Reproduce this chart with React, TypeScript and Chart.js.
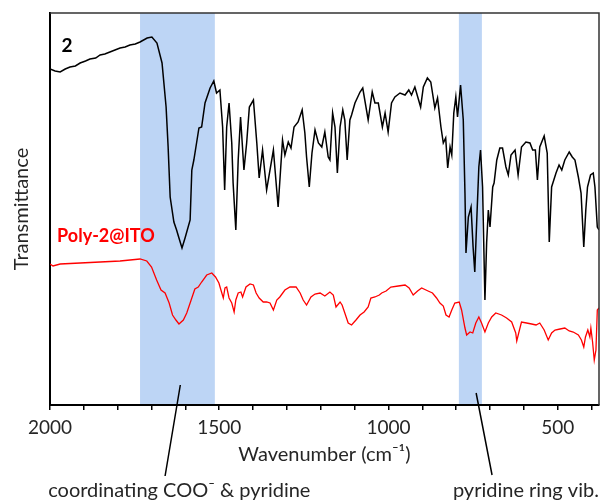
import { useEffect, useRef } from "react";
import { Chart, registerables } from "chart.js";

Chart.register(...registerables);

// Compound 2 (black) – wavenumber (cm-1) and transmittance (a.u.)
const wavenumbers2 = [
  2000, 1985, 1970, 1955, 1941, 1925, 1911, 1895, 1882, 1865, 1852, 1838, 1823, 1808, 1793, 1778, 1764,
  1748, 1734, 1713, 1699, 1684, 1669, 1657, 1651, 1645,
  1634, 1626, 1619, 1610, 1601, 1586, 1581, 1575, 1567, 1560, 1552, 1542, 1527, 1516, 1508, 1498, 1490,
  1484, 1478, 1471, 1463, 1459, 1451, 1444, 1437, 1427, 1419, 1411, 1399, 1389, 1382, 1372, 1360, 1340,
  1326, 1313, 1306, 1296, 1288, 1279, 1267, 1255, 1247, 1242, 1234, 1226, 1217, 1207, 1197, 1188, 1178,
  1173, 1165, 1158, 1151, 1143, 1135, 1129, 1122, 1114, 1109, 1099, 1084, 1076, 1060, 1048, 1040, 1030,
  1018, 1010, 1001, 991, 981, 966, 951, 940, 932, 922, 905, 897, 885, 875, 863, 855, 845, 838, 831, 825,
  818, 813, 807, 801, 796, 787, 779, 774, 771, 764, 756, 750, 745, 738, 733, 728, 722, 715, 710, 705, 700,
  692, 688, 680, 671, 663, 653, 646, 638, 626, 617, 607, 594, 582, 574, 566, 560, 553, 540, 531, 525, 518,
  505, 496, 488, 479, 466, 457, 449, 439, 431, 423, 417, 412, 403, 395, 390, 383, 378,
];
const transmittance2 = [
  336, 334, 333, 336, 338, 339, 342, 344, 346, 347, 350, 351, 353, 355, 357, 358, 360,
  361, 363, 367, 368, 362, 342, 298, 258, 208,
  183, 175, 167, 157, 167, 185, 235, 245, 262, 277, 278, 302, 317, 324, 312, 315, 278,
  215, 278, 302, 262, 222, 175, 245, 288, 235, 262, 298, 305, 262, 227, 255, 215, 255,
  198, 265, 250, 263, 257, 278, 283, 295, 272, 248, 218, 252, 275, 262, 258, 273, 248,
  245, 292, 278, 232, 278, 295, 285, 245, 285, 290, 302, 313, 317, 285, 313, 302, 302,
  278, 292, 273, 302, 308, 312, 310, 315, 310, 318, 298, 318, 327, 323, 297, 307, 278, 262, 267, 237,
  258, 250, 292, 308, 288, 320, 285, 212, 152, 188, 198, 158, 133, 195, 238, 255, 218, 105, 162, 195, 178,
  218, 222, 245, 257, 257, 238, 230, 250, 255, 230, 258, 263, 262, 255, 255, 225, 258, 269, 252, 163, 218,
  232, 240, 235, 245, 253, 248, 245, 228, 212, 158, 195, 218, 230, 232, 218, 178, 175,
];

// Poly-2@ITO (red)
const wavenumbersITO = [
  2000, 1991, 1970, 1911, 1852, 1793, 1734, 1714, 1700, 1685, 1672, 1660, 1648, 1638, 1628, 1619, 1606,
  1596, 1583, 1572, 1562, 1552, 1537, 1522, 1511, 1501, 1495, 1488, 1483, 1478, 1471, 1463, 1456, 1451,
  1444, 1436, 1431, 1421, 1409, 1399, 1391, 1382, 1370, 1360, 1350, 1340, 1330, 1321, 1306, 1291, 1273,
  1261, 1252, 1242, 1229, 1217, 1202, 1188, 1173, 1163, 1155, 1143, 1137, 1129, 1119, 1109, 1096, 1084,
  1072, 1060, 1052, 1040, 1027, 1020, 1007, 993, 971, 951, 939, 927, 914, 902, 883, 870, 858, 848, 838,
  830, 821, 813, 804, 791, 784, 774, 769, 759, 751, 742, 733, 725, 715, 705, 695, 683, 666, 651, 636, 624,
  621, 613, 607, 592, 577, 564, 553, 540, 528, 518, 508, 493, 479, 466, 454, 439, 430, 423, 418, 411, 405,
  402, 397, 392, 387, 383, 378,
];
const transmittanceITO = [
  141, 139, 141, 142, 143, 144, 146, 144, 138, 125, 115, 112, 102, 90, 85, 81, 85,
  92, 105, 116, 118, 123, 130, 132, 128, 122, 115, 107, 117, 118, 107, 102, 93, 105,
  112, 113, 108, 118, 121, 120, 112, 107, 103, 103, 102, 95, 105, 108, 115, 118, 118,
  112, 105, 100, 108, 111, 112, 109, 113, 110, 98, 103, 100, 92, 82, 80, 85, 90,
  93, 98, 107, 108, 110, 112, 114, 118, 119, 120, 117, 110, 114, 117, 114, 112, 107, 102, 99,
  90, 88, 95, 102, 103, 95, 77, 70, 73, 72, 82, 88, 82, 73, 82, 88, 92, 90, 87, 83, 72,
  64, 75, 83, 82, 81, 80, 82, 75, 65, 72, 75, 76, 77, 74, 73, 70, 65, 58, 68, 75, 68,
  77, 63, 45, 55, 95, 97,
];

const xTickValues = [2000, 1900, 1800, 1700, 1600, 1500, 1400, 1300, 1200, 1100, 1000, 900, 800, 700, 600, 500, 400];
const xTickLabels = ["2000", "1500", "1000", "500"];
const highlightBands = [
  [1734, 1513],
  [792, 724],
];
const bandNotes = ["coordinating COO\u207B & pyridine", "pyridine ring vib."];

const FONT = "Lato, 'Liberation Sans', sans-serif";
const TEXT = "#262626";

const overlay = {
  id: "overlay",
  beforeDatasetsDraw(chart: any) {
    const { ctx, chartArea: ca, scales } = chart;
    const x = scales.x;
    ctx.save();
    ctx.fillStyle = "rgb(189,213,245)";
    for (const [a, b] of highlightBands) {
      const x1 = x.getPixelForValue(a);
      const x2 = x.getPixelForValue(b);
      ctx.fillRect(Math.min(x1, x2), ca.top, Math.abs(x2 - x1), ca.bottom - ca.top - 1);
    }
    ctx.restore();
  },
  afterDraw(chart: any) {
    const { ctx, chartArea: ca, scales } = chart;
    const x = scales.x;
    const y = scales.y;
    ctx.save();
    // frame (top & right)
    ctx.strokeStyle = "#333";
    ctx.lineWidth = 1.5;
    ctx.beginPath();
    ctx.moveTo(ca.left, ca.top);
    ctx.lineTo(ca.right, ca.top);
    ctx.lineTo(ca.right, ca.bottom);
    ctx.stroke();

    // series labels
    ctx.textBaseline = "middle";
    ctx.textAlign = "left";
    ctx.font = `bold 19px ${FONT}`;
    ctx.fillStyle = "#000";
    ctx.fillText("2", x.getPixelForValue(1966), y.getPixelForValue(359));
    ctx.font = `bold 18px ${FONT}`;
    ctx.fillStyle = "#ff0000";
    ctx.fillText("Poly-2@ITO", x.getPixelForValue(1979), y.getPixelForValue(169));

    // band annotations below the axis
    ctx.strokeStyle = "#000";
    ctx.lineWidth = 1.5;
    ctx.beginPath();
    ctx.moveTo(x.getPixelForValue(1615), y.getPixelForValue(20));
    ctx.lineTo(x.getPixelForValue(1660), ca.bottom + 71);
    ctx.moveTo(x.getPixelForValue(741), y.getPixelForValue(12));
    ctx.lineTo(x.getPixelForValue(694), ca.bottom + 70);
    ctx.stroke();

    ctx.fillStyle = TEXT;
    ctx.font = `20px ${FONT}`;
    ctx.textAlign = "center";
    ctx.fillText(bandNotes[0], x.getPixelForValue(1618), ca.bottom + 86);
    ctx.fillText(bandNotes[1], x.getPixelForValue(594), ca.bottom + 86);
    ctx.restore();
  },
};

export default function App() {
  const ref = useRef<HTMLCanvasElement | null>(null);

  useEffect(() => {
    if (!ref.current) return;
    const chart = new Chart(ref.current, {
      type: "line",
      data: {
        datasets: [
          {
            label: "2",
            data: wavenumbers2.map((w, i) => ({ x: w, y: transmittance2[i] })),
            borderColor: "#000",
            borderWidth: 1.5,
            pointRadius: 0,
            tension: 0,
          },
          {
            label: "Poly-2@ITO",
            data: wavenumbersITO.map((w, i) => ({ x: w, y: transmittanceITO[i] })),
            borderColor: "#ff0000",
            borderWidth: 1.3,
            pointRadius: 0,
            tension: 0,
          },
        ],
      },
      options: {
        animation: false,
        responsive: false,
        devicePixelRatio: 1,
        layout: { padding: { left: 0, right: 8, top: 13, bottom: 0 } },
        plugins: { legend: { display: false }, tooltip: { enabled: false } },
        scales: {
          x: {
            type: "linear",
            reverse: true,
            min: 378,
            max: 2000,
            afterBuildTicks: (scale: any) => {
              scale.ticks = xTickValues.map((v) => ({ value: v }));
            },
            afterFit: (scale: any) => {
              scale.height = 98;
            },
            ticks: {
              autoSkip: false,
              maxRotation: 0,
              padding: 6,
              color: TEXT,
              font: { family: FONT, size: 19 },
              callback: (v: any) => (xTickLabels.includes(String(v)) ? String(v) : ""),
            },
            grid: {
              drawOnChartArea: false,
              drawTicks: true,
              tickLength: 5,
              color: "#000",
              lineWidth: 1.5,
            },
            border: { display: true, color: "#000", width: 2 },
            title: {
              display: true,
              text: "Wavenumber (cm\u207B\u00B9)",
              color: TEXT,
              font: { family: FONT, size: 20 },
              padding: { top: 0, bottom: 36 },
            },
          },
          y: {
            min: 0,
            max: 392,
            afterFit: (scale: any) => {
              scale.width = 50;
            },
            ticks: { display: false },
            grid: { display: false, drawTicks: false },
            border: { display: true, color: "#000", width: 2 },
            title: {
              display: true,
              text: "Transmittance",
              color: TEXT,
              font: { family: FONT, size: 20 },
              padding: { top: 10, bottom: 0 },
            },
          },
        },
      },
      plugins: [overlay],
    });
    return () => chart.destroy();
  }, []);

  return (
    <div style={{ position: "fixed", left: 0, top: 0, width: 607, height: 503, background: "#fff" }}>
      <canvas ref={ref} width={607} height={503} />
    </div>
  );
}
